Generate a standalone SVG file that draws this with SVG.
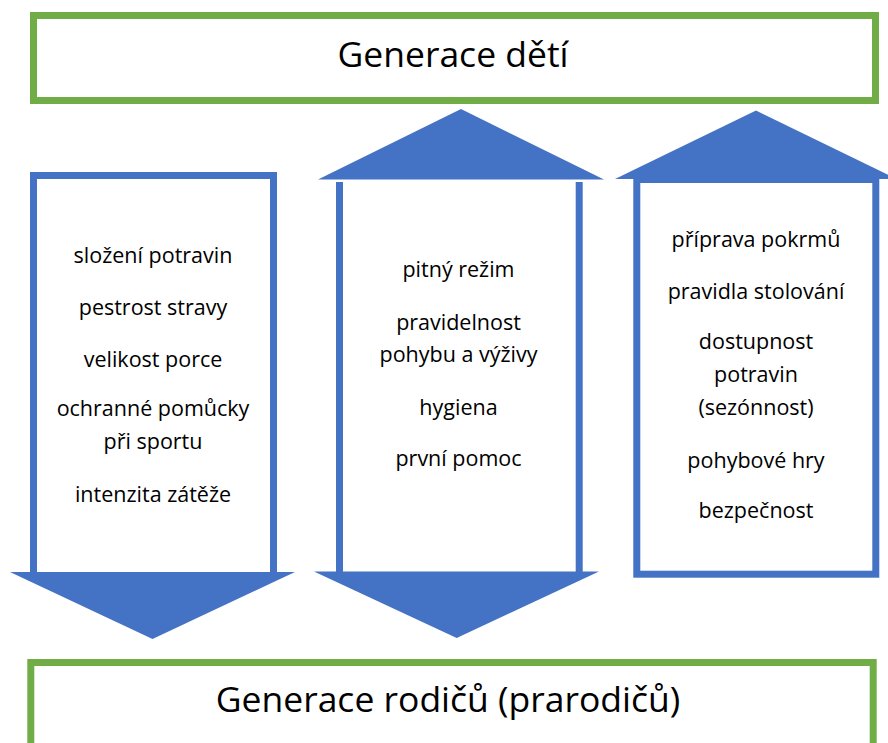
<svg xmlns="http://www.w3.org/2000/svg" width="888" height="743" viewBox="0 0 888 743">
<style>
.gen{fill:#fff;stroke:#70AD47;stroke-width:7}
.col{fill:#fff;stroke:#4472C4;stroke-width:7}
.arr{fill:#4472C4;stroke:none}
.big{font-family:"Open Sans","Noto Sans",sans-serif;font-size:35.5px;fill:#000;text-anchor:middle}
.t{font-family:"Open Sans","Noto Sans",sans-serif;font-size:21.5px;fill:#000;text-anchor:middle}
</style>
<rect width="888" height="743" fill="#fff"/>
<g id="generace-deti">
<rect class="gen" x="33.5" y="15.5" width="842" height="85"/>
<text class="big" x="453" y="67">Generace dětí</text>
</g>
<g id="generace-rodicu">
<rect class="gen" x="30.8" y="662.5" width="842.4" height="100"/>
<text class="big" x="448" y="712">Generace rodičů (prarodičů)</text>
</g>
<g id="sloupec-1">
<path class="col" d="M33.5,573 V175.5 H273.5 V573"/>
<text class="t" x="153" y="263">složení potravin</text>
<text class="t" x="153" y="315">pestrost stravy</text>
<text class="t" x="153" y="366.5">velikost porce</text>
<text class="t" x="153" y="416">ochranné pomůcky</text>
<text class="t" x="153" y="448.5">při sportu</text>
<text class="t" x="153" y="501.5">intenzita zátěže</text>
</g>
<g id="sloupec-2">
<path class="col" d="M339.5,573 V182 M579.2,573 V182"/>
<text class="t" x="458.5" y="277">pitný režim</text>
<text class="t" x="458.5" y="330">pravidelnost</text>
<text class="t" x="458.5" y="361.5">pohybu a výživy</text>
<text class="t" x="458.5" y="415">hygiena</text>
<text class="t" x="458.5" y="466">první pomoc</text>
</g>
<g id="sloupec-3">
<rect class="col" x="636.8" y="179.5" width="239" height="394.7"/>
<text class="t" x="756" y="246.5">příprava pokrmů</text>
<text class="t" x="756" y="298.5">pravidla stolování</text>
<text class="t" x="756" y="348.5">dostupnost</text>
<text class="t" x="756" y="381.5">potravin</text>
<text class="t" x="756" y="415">(sezónnost)</text>
<text class="t" x="756" y="468">pohybové hry</text>
<text class="t" x="756" y="518">bezpečnost</text>
</g>
<g id="connectors">
<polygon class="arr" points="10,572 295,572 152.5,639"/>
<polygon class="arr" points="314,571.5 599,571.5 456.7,638"/>
<polygon class="arr" points="318,179.5 604,179.5 461,109"/>
<polygon class="arr" points="615,179 897,179 756,110.5"/>
</g>
</svg>
